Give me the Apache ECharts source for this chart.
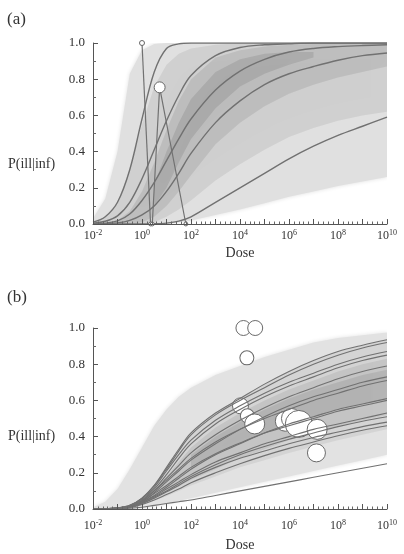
<!DOCTYPE html>
<html>
<head>
<meta charset="utf-8">
<title>P(ill|inf) against dose</title>
<script src="https://cdn.jsdelivr.net/npm/echarts@6.0.0/dist/echarts.min.js"></script>
<style>
  html, body { margin: 0; padding: 0; background: #fff; }
  #chart { width: 404px; height: 554px; }
</style>
</head>
<body>
<div id="chart"></div>
<script>
  // x values are log10(dose); every curve and band is sampled on this grid
  const logDose = [-2, -1.5, -1, -0.5, 0, 0.5, 1, 1.5, 2, 3, 4, 5, 6, 7, 8, 9, 10]
  const doseTickExps = [-2, 0, 2, 4, 6, 8, 10]
  const probTicks = [0, 0.2, 0.4, 0.6, 0.8, 1.0]

  // ---- panel (a) ----
  const curveA1 = [0.01, 0.04, 0.12, 0.3, 0.58, 0.84, 0.97, 0.995, 1, 1, 1, 1, 1, 1, 1, 1, 1]
  const curveA2 = [0.004, 0.015, 0.045, 0.12, 0.25, 0.41, 0.57, 0.71, 0.82, 0.93, 0.975, 0.99, 0.996, 1, 1, 1, 1]
  const curveA3 = [0.001, 0.005, 0.017, 0.055, 0.13, 0.23, 0.35, 0.47, 0.58, 0.74, 0.845, 0.91, 0.95, 0.97, 0.98, 0.986, 0.99]
  const curveA4 = [0, 0.002, 0.006, 0.02, 0.05, 0.1, 0.18, 0.28, 0.39, 0.56, 0.68, 0.77, 0.83, 0.87, 0.905, 0.93, 0.945]
  const curveA5 = [0, 0, 0, 0, 0, 0.001, 0.005, 0.016, 0.04, 0.12, 0.2, 0.28, 0.36, 0.43, 0.49, 0.54, 0.59]

  // shaded density, outer envelope first then darker inner layers
  const bandA0Upper = [0.03, 0.14, 0.4, 0.83, 0.96, 0.995, 1, 1, 1, 1, 1, 1, 1, 1, 1, 1, 1]
  const bandA0Lower = [0, 0, 0, 0, 0, 0, 0, 0.01, 0.02, 0.05, 0.08, 0.115, 0.15, 0.18, 0.21, 0.235, 0.26]
  const bandA1Upper = [0.01, 0.04, 0.12, 0.3, 0.55, 0.76, 0.88, 0.94, 0.97, 0.99, 1, 1, 1, 1, 1, 1, 1]
  const bandA1Lower = [0, 0, 0, 0, 0, 0.01, 0.04, 0.08, 0.13, 0.24, 0.33, 0.41, 0.48, 0.53, 0.57, 0.6, 0.62]
  const bandA2Upper = [null, null, 0.02, 0.07, 0.18, 0.34, 0.52, 0.68, 0.8, 0.92, 0.96, 0.98, 0.99, 0.995, 1, 1, 1]
  const bandA2Lower = [null, null, 0, 0, 0.01, 0.04, 0.1, 0.18, 0.27, 0.44, 0.56, 0.65, 0.72, 0.77, 0.81, 0.84, 0.87]
  const bandA3Upper = [null, null, null, null, null, 0.22, 0.4, 0.56, 0.69, 0.84, 0.91, 0.94, 0.95, 0.95, null, null, null]
  const bandA3Lower = [null, null, null, null, null, 0.1, 0.2, 0.34, 0.47, 0.64, 0.76, 0.83, 0.88, 0.92, null, null, null]

  // the two spikes with their open circles
  const spikeA1Dose = [0, 0.35]
  const spikeA1Prob = [1.0, 0]
  const spikeA1Weight = [1, 0.6]
  const spikeA2Dose = [0.42, 0.72, 1.79]
  const spikeA2Prob = [0, 0.755, 0]
  const spikeA2Weight = [0.6, 4.8, 0.6]

  // ---- panel (b) ----
  const curveB1 = [0, 0.002, 0.006, 0.02, 0.06, 0.13, 0.23, 0.33, 0.42, 0.53, 0.61, 0.69, 0.76, 0.82, 0.87, 0.905, 0.935]
  const curveB2 = [0, 0.002, 0.006, 0.02, 0.06, 0.13, 0.22, 0.32, 0.41, 0.52, 0.6, 0.67, 0.74, 0.8, 0.85, 0.89, 0.92]
  const curveB3 = [0, 0.002, 0.005, 0.018, 0.055, 0.12, 0.21, 0.3, 0.38, 0.49, 0.57, 0.64, 0.7, 0.75, 0.8, 0.84, 0.87]
  const curveB4 = [0, 0.002, 0.005, 0.016, 0.05, 0.11, 0.19, 0.28, 0.36, 0.47, 0.55, 0.62, 0.68, 0.73, 0.78, 0.82, 0.85]
  const curveB5 = [0, 0.001, 0.004, 0.014, 0.045, 0.1, 0.17, 0.24, 0.31, 0.41, 0.49, 0.56, 0.62, 0.67, 0.72, 0.76, 0.79]
  const curveB6 = [0, 0.001, 0.004, 0.013, 0.04, 0.09, 0.15, 0.21, 0.27, 0.36, 0.44, 0.51, 0.57, 0.62, 0.66, 0.7, 0.73]
  const curveB7 = [0, 0.001, 0.004, 0.014, 0.045, 0.1, 0.16, 0.22, 0.28, 0.37, 0.44, 0.5, 0.55, 0.6, 0.64, 0.68, 0.71]
  const curveB8 = [0, 0.001, 0.003, 0.011, 0.035, 0.075, 0.12, 0.17, 0.22, 0.3, 0.36, 0.42, 0.47, 0.51, 0.55, 0.58, 0.61]
  const curveB9 = [0, 0.001, 0.004, 0.013, 0.04, 0.085, 0.13, 0.18, 0.23, 0.305, 0.365, 0.42, 0.46, 0.5, 0.54, 0.57, 0.6]
  const curveB10 = [0, 0.001, 0.003, 0.011, 0.035, 0.07, 0.11, 0.15, 0.19, 0.26, 0.31, 0.36, 0.4, 0.44, 0.47, 0.5, 0.53]
  const curveB11 = [0, 0.001, 0.003, 0.01, 0.03, 0.065, 0.1, 0.14, 0.18, 0.245, 0.3, 0.345, 0.385, 0.42, 0.455, 0.485, 0.51]
  const curveB12 = [0, 0.001, 0.003, 0.01, 0.03, 0.06, 0.095, 0.13, 0.17, 0.23, 0.28, 0.32, 0.36, 0.395, 0.425, 0.455, 0.48]
  const curveB13 = [0, 0.001, 0.002, 0.008, 0.025, 0.05, 0.08, 0.11, 0.145, 0.2, 0.25, 0.295, 0.335, 0.37, 0.405, 0.435, 0.46]
  const curveB14 = [0, 0, 0.001, 0.004, 0.01, 0.02, 0.03, 0.04, 0.05, 0.075, 0.1, 0.125, 0.15, 0.175, 0.2, 0.225, 0.25]

  const bandB0Upper = [0.01, 0.04, 0.11, 0.22, 0.34, 0.46, 0.55, 0.62, 0.67, 0.74, 0.79, 0.84, 0.88, 0.92, 0.945, 0.96, 0.975]
  const bandB0Lower = [0, 0, 0, 0, 0.005, 0.015, 0.03, 0.045, 0.06, 0.09, 0.12, 0.15, 0.18, 0.21, 0.24, 0.27, 0.3]
  const bandB1Upper = [null, null, 0.005, 0.02, 0.06, 0.13, 0.23, 0.33, 0.42, 0.53, 0.61, 0.69, 0.76, 0.82, 0.87, 0.905, 0.935]
  const bandB1Lower = [null, null, 0, 0, 0.02, 0.045, 0.07, 0.1, 0.13, 0.18, 0.23, 0.27, 0.31, 0.345, 0.38, 0.41, 0.44]
  const bandB2Upper = [null, null, null, null, 0.04, 0.1, 0.18, 0.26, 0.34, 0.45, 0.53, 0.6, 0.66, 0.71, 0.76, 0.8, 0.83]
  const bandB2Lower = [null, null, null, null, 0.025, 0.055, 0.09, 0.125, 0.16, 0.22, 0.28, 0.33, 0.38, 0.42, 0.46, 0.49, 0.52]
  const bandB3Upper = [null, null, null, null, null, null, null, null, 0.3, 0.4, 0.48, 0.55, 0.61, 0.66, 0.7, 0.74, 0.77]
  const bandB3Lower = [null, null, null, null, null, null, null, null, 0.22, 0.3, 0.36, 0.42, 0.47, 0.51, 0.55, 0.58, 0.61]

  // observed outbreaks: log10(dose), P(ill|inf), relative weight (bubble area)
  const obsLogDose = [4.14, 4.62, 4.28, 4.02, 4.3, 4.6, 5.85, 6.1, 6.4, 7.15, 7.12]
  const obsProb = [1.0, 1.0, 0.835, 0.57, 0.515, 0.47, 0.485, 0.5, 0.47, 0.44, 0.31]
  const obsWeight = [1, 1, 0.87, 1.14, 0.87, 1.78, 1.78, 1.78, 3.24, 1.78, 1.44]

  const curvesA = [curveA1, curveA2, curveA3, curveA4, curveA5]
  const curvesB = [curveB1, curveB2, curveB3, curveB4, curveB5, curveB6, curveB7,
    curveB8, curveB9, curveB10, curveB11, curveB12, curveB13, curveB14]

  const serif = "'Liberation Serif', 'DejaVu Serif', serif"
  const ink = '#333'
  const axisGray = '#555'
  const curveGray = '#717171'

  const chart = echarts.init(document.getElementById('chart'), null, { renderer: 'canvas' })

  // band between two curves, drawn once as a soft-edged polygon through the axes
  const band = (grid, upper, lower, fill, blur) => ({
    type: 'custom',
    xAxisIndex: grid,
    yAxisIndex: grid,
    z: 1,
    silent: true,
    clip: true,
    data: logDose.map((x, i) => [x, upper[i] == null ? 0.5 : upper[i]]),
    renderItem: (params, api) => {
      if (params.dataIndex !== 0) return null
      const top = []
      const bottom = []
      logDose.forEach((x, i) => {
        if (upper[i] == null || lower[i] == null) return
        top.push(api.coord([x, upper[i]]))
        bottom.unshift(api.coord([x, lower[i]]))
      })
      return {
        type: 'polygon',
        shape: { points: top.concat(bottom) },
        style: { fill: fill, shadowBlur: blur, shadowColor: fill }
      }
    }
  })

  const curve = (grid, values, width) => ({
    type: 'line',
    xAxisIndex: grid,
    yAxisIndex: grid,
    z: 4,
    silent: true,
    smooth: 0.35,
    symbol: 'none',
    data: logDose.map((x, i) => [x, values[i]]),
    lineStyle: { color: curveGray, width: width }
  })

  const spike = (xs, ys, ws) => ({
    type: 'line',
    xAxisIndex: 0,
    yAxisIndex: 0,
    z: 5,
    silent: true,
    symbol: 'circle',
    showSymbol: true,
    data: xs.map((x, i) => ({ value: [x, ys[i]], symbolSize: 5 * Math.sqrt(ws[i]) })),
    lineStyle: { color: curveGray, width: 1.2 },
    itemStyle: { color: '#fff', borderColor: '#666', borderWidth: 1 }
  })

  const xAxisFor = (grid, labelMargin, nameGap) => ({
    gridIndex: grid,
    type: 'value',
    z: 10,
    min: -2,
    max: 10,
    interval: 1,
    name: 'Dose',
    nameLocation: 'middle',
    nameGap: nameGap,
    nameTextStyle: { fontFamily: serif, fontSize: 14, color: ink },
    axisLine: { show: true, onZero: false, lineStyle: { color: axisGray, width: 1 } },
    axisTick: { show: true, inside: true, length: 5, lineStyle: { color: axisGray } },
    minorTick: { show: true, splitNumber: 5, length: 2.5, lineStyle: { color: '#666' } },
    splitLine: { show: false },
    axisLabel: {
      margin: labelMargin,
      interval: 0,
      fontFamily: serif,
      fontSize: 12,
      color: ink,
      formatter: (v) => (doseTickExps.includes(v) ? '10{e|' + v + '}' : ''),
      rich: { e: { fontFamily: serif, fontSize: 8, color: ink, verticalAlign: 'top', padding: [0, 0, 6, 0] } }
    }
  })

  const yAxisFor = (grid) => ({
    gridIndex: grid,
    type: 'value',
    z: 10,
    min: probTicks[0],
    max: probTicks[probTicks.length - 1],
    interval: 0.2,
    axisLine: { show: true, onZero: false, lineStyle: { color: axisGray, width: 1 } },
    axisTick: { show: true, inside: true, length: 5, lineStyle: { color: axisGray } },
    minorTick: { show: true, splitNumber: 2, length: 3, lineStyle: { color: '#666' } },
    splitLine: { show: false },
    axisLabel: { margin: 8, fontFamily: serif, fontSize: 13, color: ink, formatter: (v) => v.toFixed(1) }
  })

  const series = [
    band(0, bandA0Upper, bandA0Lower, '#e0e0e0', 4),
    band(0, bandA1Upper, bandA1Lower, 'rgba(0,0,0,0.07)', 14),
    band(0, bandA2Upper, bandA2Lower, 'rgba(0,0,0,0.08)', 16),
    band(0, bandA3Upper, bandA3Lower, 'rgba(0,0,0,0.09)', 18),
    band(1, bandB0Upper, bandB0Lower, '#e2e2e2', 4),
    band(1, bandB1Upper, bandB1Lower, 'rgba(0,0,0,0.06)', 12),
    band(1, bandB2Upper, bandB2Lower, 'rgba(0,0,0,0.07)', 14),
    band(1, bandB3Upper, bandB3Lower, 'rgba(0,0,0,0.08)', 16)
  ]
  curvesA.forEach((c) => series.push(curve(0, c, 1.4)))
  series.push(spike(spikeA1Dose, spikeA1Prob, spikeA1Weight))
  series.push(spike(spikeA2Dose, spikeA2Prob, spikeA2Weight))
  series.push({
    type: 'scatter',
    xAxisIndex: 1,
    yAxisIndex: 1,
    z: 3,
    silent: true,
    data: obsLogDose.map((x, i) => [x, obsProb[i], obsWeight[i]]),
    symbolSize: (v) => 15 * Math.sqrt(v[2]),
    itemStyle: { color: '#fff', borderColor: '#6a6a6a', borderWidth: 1, opacity: 1 }
  })
  curvesB.forEach((c) => series.push(curve(1, c, 1.1)))

  chart.setOption({
    animation: false,
    backgroundColor: '#fff',
    grid: [
      { left: 93, right: 17, top: 43, height: 181, outerBoundsMode: 'none' },
      { left: 93, right: 17, top: 328, height: 181, outerBoundsMode: 'none' }
    ],
    xAxis: [xAxisFor(0, 5, 22), xAxisFor(1, 10, 29)],
    yAxis: [yAxisFor(0), yAxisFor(1)],
    graphic: [
      { type: 'text', left: 7, top: 11, style: { text: '(a)', font: '17px ' + serif, fill: ink } },
      { type: 'text', left: 7, top: 289, style: { text: '(b)', font: '17px ' + serif, fill: ink } },
      { type: 'text', left: 8, top: 157, style: { text: 'P(ill|inf)', font: '14px ' + serif, fill: ink } },
      { type: 'text', left: 8, top: 429, style: { text: 'P(ill|inf)', font: '14px ' + serif, fill: ink } }
    ],
    series: series
  })
</script>
</body>
</html>
